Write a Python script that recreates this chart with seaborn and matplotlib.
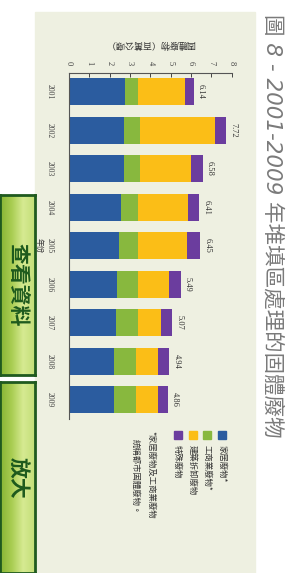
import numpy as np
import pandas as pd
import seaborn as sns
import matplotlib.pyplot as plt
from matplotlib.patches import Rectangle
from matplotlib.colors import LinearSegmentedColormap

# data (million tonnes)
years = ["2001", "2002", "2003", "2004", "2005", "2006", "2007", "2008", "2009"]
domestic = [2.73, 2.71, 2.71, 2.57, 2.46, 2.38, 2.31, 2.22, 2.19]
commercial = [0.65, 0.78, 0.78, 0.82, 0.93, 1.00, 1.07, 1.07, 1.10]
construction = [2.32, 3.69, 2.52, 2.45, 2.40, 1.54, 1.12, 1.11, 1.11]
special = [0.44, 0.54, 0.57, 0.57, 0.66, 0.57, 0.57, 0.54, 0.46]
total_labels = ["6.14", "7.72", "6.58", "6.41", "6.45", "5.49", "5.07", "4.94", "4.86"]
series_names = ["家居廢物*", "工商業廢物*", "建築拆卸廢物", "特殊廢物"]
colors = ["#2b5c9f", "#88b83e", "#fbbe17", "#6b3d9e"]

W, H = 294, 573
CJK = ["Noto Sans CJK TC", "DejaVu Sans"]
SERIF = ["Liberation Serif", "DejaVu Serif"]

sns.set_style("white")
plt.rcParams["font.family"] = SERIF

df = pd.DataFrame({"year": years, "domestic": domestic, "commercial": commercial,
                   "construction": construction, "special": special})
cols = ["domestic", "commercial", "construction", "special"]
cum = df[cols].cumsum(axis=1)

fig = plt.figure(figsize=(W / 100, H / 100), dpi=100)
fig.patch.set_facecolor("white")

# beige panel
fig.patches.append(Rectangle((35 / W, 0), (255 - 35) / W, (H - 12) / H,
                             transform=fig.transFigure, color="#eef0e1", zorder=-5))

ax = fig.add_axes([69 / W, 1 - 419 / H, (231.7 - 69) / W, (419 - 72.5) / H])
ax.set_facecolor("none")
ax.set_zorder(2)

# stacked bars: draw cumulative sums, largest first
for col, c in reversed(list(zip(cols, colors))):
    sns.barplot(x=cum[col], y=df["year"], orient="h", color=c, width=0.7,
                saturation=1, ax=ax, linewidth=0)

ax.set_xlim(0, 8)
ax.set_ylim(8.5, -0.5)
ax.xaxis.tick_top()
ax.set_xticks(range(9))
ax.set_xticklabels([str(v) for v in range(9)], rotation=-90, fontsize=6, family=SERIF)
ax.tick_params(axis="x", direction="in", length=3, width=0.7, pad=5, colors="#444")
ax.set_yticks(range(9))
ax.set_yticklabels(years, rotation=-90, fontsize=5.5, family=SERIF, va="center")
ax.set_yticks(np.arange(-0.5, 9, 1), minor=True)
ax.tick_params(axis="y", which="major", length=0, pad=11, colors="#444")
ax.tick_params(axis="y", which="minor", length=3, width=1, direction="out", color="#444")

for s in ["right", "bottom"]:
    ax.spines[s].set_visible(False)
for s in ["top", "left"]:
    ax.spines[s].set_color("#555")
    ax.spines[s].set_linewidth(0.8)

ax.xaxis.set_label_position("top")
ax.set_xlabel("固體廢物（百萬公噸）", rotation=180, fontsize=6.5, family=CJK, color="#333")
ax.xaxis.set_label_coords(0.5, 1.082)
ax.xaxis.label.set_va("center")
ax.set_ylabel("年份", rotation=-90, fontsize=5.5, family=CJK, color="#333")
ax.yaxis.set_label_coords(-0.185, 0.5)
ax.yaxis.label.set_va("center")

for i, lab in enumerate(total_labels):
    ax.text(cum["special"][i] + 0.15, i, lab, rotation=-90, va="center", ha="left",
            fontsize=6, family=SERIF, color="#333")

# legend (drawn by hand because the whole chart is rotated)
leg_x = [221.7, 206.7, 192.7, 177.7]
for xc, name, c in zip(leg_x, series_names, colors):
    fig.patches.append(Rectangle(((xc - 4) / W, 1 - 439 / H), 8 / W, 8 / H,
                                 transform=fig.transFigure, color=c))
    fig.text(xc / W, 1 - 445 / H, name, rotation=-90, ha="center", va="top",
             fontsize=6, family=CJK, color="#333")

fig.text(151 / W, 1 - 431 / H, "*家居廢物及工商業廢物", rotation=-90, ha="center", va="top",
         fontsize=6, family=CJK, color="#333")
fig.text(135 / W, 1 - 439 / H, "統稱都市固體廢物。", rotation=-90, ha="center", va="top",
         fontsize=6, family=CJK, color="#333")

# title
fig.text(273 / W, 1 - 14 / H, "圖 8 - 2001-2009 年堆填區處理的固體廢物", rotation=-90,
         ha="center", va="top", fontsize=15.5, color="#7a7a7a", style="italic",
         weight="light", family=["DejaVu Sans", "Noto Sans CJK TC"])

# green buttons
grad = LinearSegmentedColormap.from_list("btn", ["#86b534", "#a9cd52", "#d6ea92", "#c3df78"])
for (y0, y1), label in zip([(195, 375), (382, 573)], ["查看資料", "放大"]):
    bax = fig.add_axes([0, 1 - y1 / H, 35 / W, (y1 - y0) / H])
    bax.imshow(np.linspace(0, 1, 50).reshape(1, -1), aspect="auto", cmap=grad,
               extent=[0, 1, 0, 1])
    bax.set_xticks([])
    bax.set_yticks([])
    for s in bax.spines.values():
        s.set_color("#1f5a1f")
        s.set_linewidth(2)
    bax.text(0.5, 0.5, label, rotation=-90, ha="center", va="center", fontsize=15,
             weight="bold", color="#1d5a1d", family=CJK, transform=bax.transAxes)

fig.savefig("out.png", dpi=100)
